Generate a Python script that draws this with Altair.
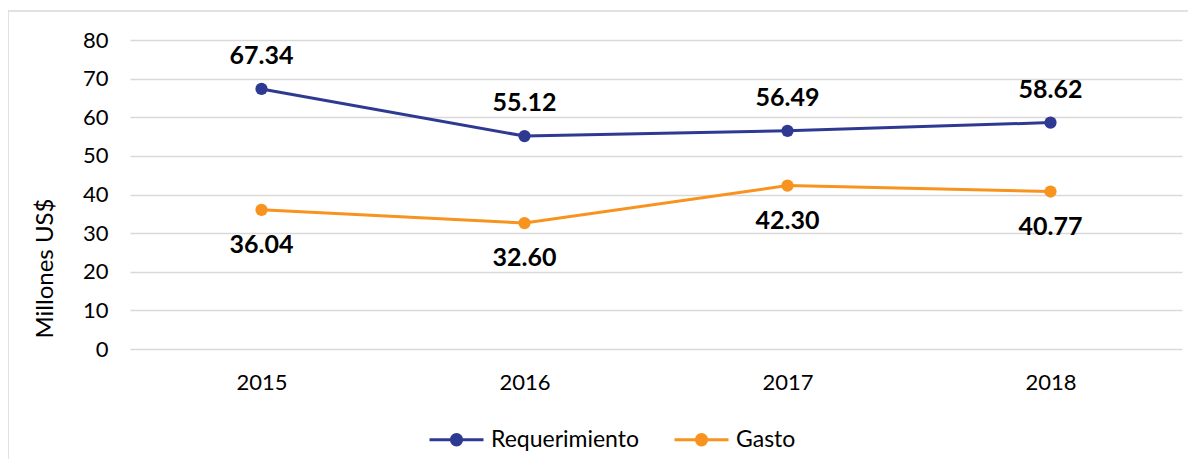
import altair as alt
import pandas as pd

years = ["2015", "2016", "2017", "2018"]
requerimiento = [67.34, 55.12, 56.49, 58.62]
gasto = [36.04, 32.60, 42.30, 40.77]
series_names = ["Requerimiento", "Gasto"]
colors = ["#2E3A92", "#F7931E"]
y_ticks = [0, 10, 20, 30, 40, 50, 60, 70, 80]

rows = []
for i, yr in enumerate(years):
    rows.append({"year": yr, "serie": "Requerimiento", "value": requerimiento[i]})
    rows.append({"year": yr, "serie": "Gasto", "value": gasto[i]})
df = pd.DataFrame(rows)

FONT = "Lato"

x_enc = alt.X("year:N", sort=years,
              scale=alt.Scale(type="point", padding=0.5),
              axis=alt.Axis(title=None, labelFontSize=22, labelPadding=23,
                            labelColor="#000", domain=False, ticks=False,
                            labelAngle=0, grid=False))
y_enc = alt.Y("value:Q", scale=alt.Scale(domain=[0, 80], nice=False),
              axis=alt.Axis(title="Millones US$", values=y_ticks, titleFontSize=24,
                            titleFontWeight="normal", titleColor="#000",
                            titleY=228, titleX=-85, titleAngle=-90, titleAlign="center",
                            titleBaseline="middle",
                            labelFontSize=22, labelColor="#000", labelPadding=22,
                            domain=False, ticks=False, grid=True,
                            gridColor="#d9d9d9", gridWidth=1.5))
color_enc = alt.Color("serie:N", sort=series_names,
                      scale=alt.Scale(domain=series_names, range=colors),
                      legend=alt.Legend(title=None, orient="none", direction="horizontal",
                                        legendX=298, legendY=371,
                                        symbolType="M-1,0L1,0M-0.19,0A0.19,0.19,0,1,1,0.19,0A0.19,0.19,0,1,1,-0.19,0Z",
                                        symbolSize=2916, symbolStrokeWidth=3,
                                        labelFontSize=23, labelColor="#000",
                                        labelOffset=6, columnPadding=28,
                                        symbolOpacity=1))

base = alt.Chart(df)

lines = base.mark_line(strokeWidth=3).encode(x=x_enc, y=y_enc, color=color_enc)
points = base.mark_point(filled=True, size=150, opacity=1).encode(
    x=x_enc, y=y_enc, color=alt.Color("serie:N", sort=series_names,
                                      scale=alt.Scale(domain=series_names, range=colors),
                                      legend=None))

lab_top = base.transform_filter(alt.datum.serie == "Requerimiento").mark_text(
    fontSize=25, fontWeight="bold", dy=-33, baseline="middle", color="#000"
).encode(x=x_enc, y=y_enc, text=alt.Text("value:Q", format=".2f"))
lab_bot = base.transform_filter(alt.datum.serie == "Gasto").mark_text(
    fontSize=25, fontWeight="bold", dy=35, baseline="middle", color="#000"
).encode(x=x_enc, y=y_enc, text=alt.Text("value:Q", format=".2f"))

border = alt.Chart(alt.Data(values=[{}])).mark_rect(
    fill=None, stroke="#d9d9d9", strokeWidth=1.5
).encode(x=alt.value(-122), x2=alt.value(1100), y=alt.value(-29), y2=alt.value(500))

chart = alt.layer(border, lines, points, lab_top, lab_bot).properties(
    width=1052, height=309,
    autosize=alt.AutoSizeParams(type="none"),
    padding={"left": 122, "top": 32, "right": 6, "bottom": 110},
    background="white",
).configure(font=FONT).configure_view(stroke=None)

chart.save("out.html", embed_options={"renderer": "svg", "actions": False})
